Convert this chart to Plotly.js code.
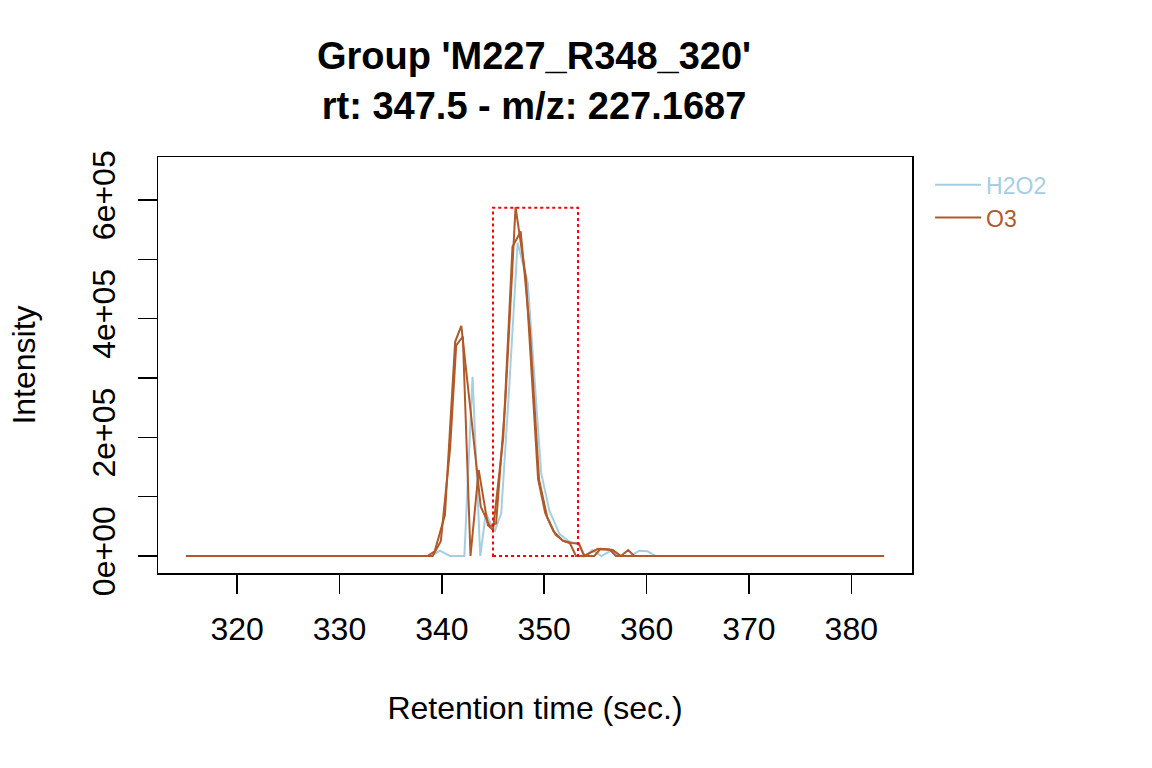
<!DOCTYPE html>
<html>
<head>
<meta charset="utf-8">
<script src="https://cdn.plot.ly/plotly-3.0.1.min.js"></script>
<style>
  html, body { margin: 0; padding: 0; background: #ffffff; }
  #chart { width: 1152px; height: 768px; }
</style>
</head>
<body>
<div id="chart"></div>
<script>
// Retention time (sec.) and intensity for each sample
const h2o2Rt  = [315.0, 339.0, 339.8, 340.8, 342.2, 343.0, 343.75, 344.3, 345.15, 345.8, 346.6, 347.4, 348.4, 349.7, 350.5, 351.5, 352.4, 353.3, 354.0, 354.7, 355.6, 356.6, 357.3, 358.4, 359.3, 360.1, 360.9, 383.2];
const h2o2Int = [0, 0, 9000, 0, 0, 302000, 0, 72000, 41000, 72000, 290000, 528000, 460000, 140000, 77000, 37000, 25000, 20000, 0, 10000, 0, 10000, 0, 0, 9000, 8000, 0, 0];

const o3aRt  = [315.0, 338.6, 339.3, 340.3, 341.3, 341.9, 342.9, 343.8, 344.7, 345.3, 346.2, 347.2, 348.2, 349.4, 350.1, 350.9, 351.8, 352.6, 353.4, 353.9, 355.25, 356.7, 357.5, 358.2, 358.8, 383.2];
const o3aInt = [0, 0, 8000, 69000, 361000, 388000, 230000, 83000, 50000, 55000, 260000, 588000, 470000, 130000, 72000, 42000, 26000, 22000, 21000, 0, 12000, 10000, 0, 10000, 0, 0];

const o3bRt  = [315.0, 339.1, 339.9, 340.8, 341.4, 342.05, 342.8, 343.6, 344.5, 345.0, 346.0, 346.9, 347.7, 348.6, 349.5, 350.3, 351.1, 351.9, 352.5, 353.1, 354.9, 355.5, 356.4, 357.0, 383.2];
const o3bInt = [0, 0, 25000, 180000, 355000, 370000, 0, 145000, 52000, 44000, 200000, 521000, 547000, 380000, 128000, 65000, 36000, 25000, 22000, 0, 0, 12000, 11000, 0, 0];

// Detected peak area (rt range, intensity range)
const peakRt  = [345.0, 353.3];
const peakInt = [0, 587000];

const yTickVals = [0, 100000, 200000, 300000, 400000, 500000, 600000];
const yTickText = ["0e+00", "", "2e+05", "", "4e+05", "", "6e+05"];
const xTickVals = [320, 330, 340, 350, 360, 370, 380];

const colH2O2 = "#A6CEE3";
const colO3 = "#B15928";

const traces = [
  { x: h2o2Rt, y: h2o2Int, type: "scatter", mode: "lines", name: '<span style="color:' + colH2O2 + '">H2O2</span>',
    line: { color: colH2O2, width: 2 } },
  { x: o3aRt, y: o3aInt, type: "scatter", mode: "lines", name: '<span style="color:' + colO3 + '">O3</span>',
    line: { color: colO3, width: 2 } },
  { x: o3bRt, y: o3bInt, type: "scatter", mode: "lines", name: "O3", showlegend: false,
    line: { color: colO3, width: 2 } }
];

const font = "Liberation Sans, Arial, Helvetica, sans-serif";

const layout = {
  width: 1152, height: 768,
  paper_bgcolor: "#ffffff", plot_bgcolor: "#ffffff",
  margin: { l: 158, r: 240, t: 157, b: 195, pad: 0 },
  font: { family: font, size: 32, color: "#000000" },
  title: {
    text: "<b>Group 'M227_R348_320'</b><br><b>rt: 347.5 - m/z: 227.1687</b>",
    font: { family: font, size: 38, color: "#000000" },
    x: 0.4636, xanchor: "center", xref: "container",
    y: 0.91, yanchor: "middle", yref: "container"
  },
  xaxis: {
    range: [312.27, 385.93], autorange: false,
    tickvals: xTickVals, ticktext: xTickVals.map(String),
    ticks: "outside", ticklen: 19, tickwidth: 1.5, tickcolor: "#000",
    showline: true, linecolor: "#000", linewidth: 1.5, mirror: true,
    showgrid: false, zeroline: false,
    tickfont: { size: 32 }, ticklabelstandoff: 8,
    title: { text: "Retention time (sec.)", font: { size: 32 }, standoff: 50 }
  },
  yaxis: {
    range: [-28650, 672500], autorange: false,
    tickvals: yTickVals, ticktext: yTickText, tickangle: -90,
    ticks: "outside", ticklen: 19, tickwidth: 1.5, tickcolor: "#000",
    showline: true, linecolor: "#000", linewidth: 1.5, mirror: true,
    showgrid: false, zeroline: false,
    tickfont: { size: 32 }, ticklabelstandoff: 10,
    title: { text: "Intensity", font: { size: 32 }, standoff: 40 }
  },
  legend: {
    x: 1.024, xanchor: "left", y: 0.985, yanchor: "top",
    bgcolor: "rgba(0,0,0,0)", borderwidth: 0, itemwidth: 46,
    font: { family: font, size: 23 }
  },
  shapes: [{
    type: "rect", xref: "x", yref: "y",
    x0: peakRt[0], x1: peakRt[1], y0: peakInt[0], y1: peakInt[1],
    line: { color: "#FF0000", width: 2, dash: "dot" }, fillcolor: "rgba(0,0,0,0)"
  }],
  showlegend: true
};

Plotly.newPlot("chart", traces, layout, { displayModeBar: false, staticPlot: true });
</script>
</body>
</html>
